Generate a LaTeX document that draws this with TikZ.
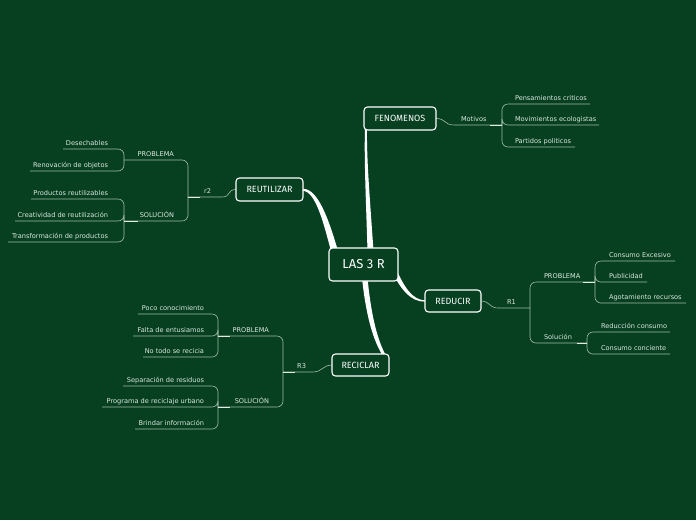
\documentclass[tikz,border=0pt]{standalone}
\usepackage{fontspec}
\setmainfont{DejaVu Sans}
\newfontfamily\handfont{Fira Sans}
\usetikzlibrary{calc}
\definecolor{bg}{RGB}{6,64,33}
\definecolor{txt}{RGB}{222,232,224}
\definecolor{lnc}{RGB}{160,188,168}
\definecolor{hl}{RGB}{225,236,228}
\pgfdeclarelayer{back}\pgfdeclarelayer{conn}
\pgfsetlayers{back,conn,main}
\newcommand{\RTx}[3]{\makebox[#1pt][l]{\hspace{#2pt}#3}}
\newcommand{\LTx}[3]{\makebox[#1pt][r]{#3\hspace{#2pt}}}
\begin{document}
\begin{tikzpicture}[x=1pt,y=-1pt,
  topic/.style={draw=white, line width=1.1pt, rounded corners=3.5pt, fill=bg, text=white, inner sep=0pt, outer sep=0pt, font=\handfont\fontsize{9}{10}\selectfont},
  sub/.style={inner xsep=0pt, inner ysep=4pt, text depth=0pt, outer sep=0pt, text=txt, font=\fontsize{6.6}{7}\selectfont},
  rsub/.style={sub, anchor=south west},
  lsub/.style={sub, anchor=south east},
  lnk/.style={draw=lnc, line width=0.6pt},
  brk/.style={lnk, rounded corners=6pt},
  hil/.style={draw=hl, line width=0.8pt},
  taper/.style={fill=white, draw=none}]
\path[use as bounding box] (0,0) rectangle (696,520);
\begin{pgfonlayer}{back}
\fill[bg] (0,0) rectangle (696,520);
\end{pgfonlayer}

% main topics
\node[topic, minimum width=69pt, minimum height=33pt, font=\handfont\fontsize{13}{14}\selectfont] (c) at (363.5,264.5) {LAS 3 R};
\node[topic, minimum width=72pt, minimum height=23pt] (fen) at (400,118.5) {FENOMENOS};
\node[topic, minimum width=67pt, minimum height=23pt] (reu) at (269.5,189.5) {REUTILIZAR};
\node[topic, minimum width=56pt, minimum height=22pt] (red) at (453,301) {REDUCIR};
\node[topic, minimum width=57pt, minimum height=22pt] (rec) at (360.5,365) {RECICLAR};

% FENOMENOS branch
\node[rsub] (mot) at (454,125) {\RTx{48}{7}{Motivos}};
\node[rsub] (pen) at (502,104) {\RTx{88}{13}{Pensamientos criticos}};
\node[rsub] (mov) at (502,125) {\RTx{97}{13}{Movimientos ecologistas}};
\node[rsub] (par) at (502,147) {\RTx{73}{13}{Partidos politicos}};

% REDUCIR branch
\node[rsub] (r1) at (498,308) {\RTx{32}{9}{R1}};
\node[rsub] (pb1) at (530,282) {\RTx{65}{14}{PROBLEMA}};
\node[rsub] (so1) at (530,343) {\RTx{57}{14}{Solución}};
\node[rsub] (ce) at (595,261) {\RTx{80}{14}{Consumo Excesivo}};
\node[rsub] (pu) at (595,282) {\RTx{52}{14}{Publicidad}};
\node[rsub] (ag) at (595,303) {\RTx{91}{14}{Agotamiento recursos}};
\node[rsub] (rc) at (587,332) {\RTx{83}{14}{Reducción consumo}};
\node[rsub] (cc) at (587,354) {\RTx{83}{14}{Consumo conciente}};

% REUTILIZAR branch
\node[lsub] (r2) at (222,197) {\LTx{34}{11}{r2}};
\node[lsub] (pb2) at (188,160) {\LTx{64}{14}{PROBLEMA}};
\node[lsub] (so2) at (188,221) {\LTx{64}{14}{SOLUCIÓN}};
\node[lsub] (de) at (124,149) {\LTx{61}{16}{Desechables}};
\node[lsub] (rn) at (124,171) {\LTx{94}{16}{Renovación de objetos}};
\node[lsub] (pr) at (124,199) {\LTx{93}{16}{Productos reutilizables}};
\node[lsub] (cr) at (124,221) {\LTx{109}{16}{Creatividad de reutilización}};
\node[lsub] (tr) at (124,242) {\LTx{116}{16}{Transformación de productos}};

% RECICLAR branch
\node[lsub] (r3) at (313,372) {\LTx{30}{7}{R3}};
\node[lsub] (pb3) at (283,336) {\LTx{65}{14}{PROBLEMA}};
\node[lsub] (so3) at (283,407) {\LTx{65}{14}{SOLUCIÓN}};
\node[lsub] (po) at (218,314) {\LTx{80}{14}{Poco conocimiento}};
\node[lsub] (fa) at (218,336) {\LTx{85}{14}{Falta de entusiamos}};
\node[lsub] (nt) at (218,357) {\LTx{75}{14}{No todo se recicia}};
\node[lsub] (se) at (218,386) {\LTx{95}{14}{Separación de residuos}};
\node[lsub] (pg) at (218,407) {\LTx{116}{14}{Programa de reciclaje urbano}};
\node[lsub] (br) at (218,429) {\LTx{83}{14}{Brindar información}};

\begin{pgfonlayer}{conn}
% tapered main connectors
\fill[taper] ($(c.north)+(4,3)$) .. controls (366,200) and (364,160) .. ($(fen.south west)+(1,-2)$)
  -- ($(fen.south west)+(3,-2)$) .. controls (366.5,160) and (370,200) .. ($(c.north)+(10,3)$) -- cycle;
\fill[taper] ($(reu.east)+(0,-0.7)$) .. controls (318,188.5) and (329,220) .. ($(c.north west)+(9,3)$)
  -- ($(c.north west)+(2,3)$) .. controls (324,225) and (316,191.5) .. ($(reu.east)+(0,1.3)$) -- cycle;
\fill[taper] ($(c.east)+(-2.8,2.4)$) .. controls (404,287) and (412,299.8) .. ($(red.west)+(0,-0.6)$)
  -- ($(red.west)+(0,0.6)$) .. controls (411,302.2) and (400,289) .. ($(c.east)+(-7.2,4.6)$) -- cycle;
\fill[taper] ($(c.south)+(-1.5,-3)$) .. controls (365.5,311) and (372,341) .. ($(rec.north east)+(-4,5)$)
  -- ($(rec.north east)+(-2,3.5)$) .. controls (376,339) and (370.5,309) .. ($(c.south)+(4,-3)$) -- cycle;

% FENOMENOS
\draw[lnk] (fen.east) .. controls +(10,0) and +(-10,0) .. (mot.south west) -- (mot.south east);
\draw[brk] (mot.south east) |- (pen.south east);
\draw[brk] (mot.south east) |- (mov.south east);
\draw[brk] (mot.south east) |- (par.south east);
% REDUCIR
\draw[lnk] (red.east) .. controls +(9,0) and +(-9,0) .. (r1.south west) -- (r1.south east);
\draw[brk] (r1.south east) |- (pb1.south east);
\draw[brk] (r1.south east) |- (so1.south east);
\draw[brk] (pb1.south east) |- (ce.south east);
\draw[brk] (pb1.south east) |- (pu.south east);
\draw[brk] (pb1.south east) |- (ag.south east);
\draw[brk] (so1.south east) |- (rc.south east);
\draw[brk] (so1.south east) |- (cc.south east);
% REUTILIZAR
\draw[lnk] (reu.west) .. controls +(-9,0) and +(9,0) .. (r2.south east) -- (r2.south west);
\draw[brk] (r2.south west) |- (pb2.south west);
\draw[brk] (r2.south west) |- (so2.south west);
\draw[brk] (pb2.south west) |- (de.south west);
\draw[brk] (pb2.south west) |- (rn.south west);
\draw[brk] (so2.south west) |- (pr.south west);
\draw[brk] (so2.south west) |- (cr.south west);
\draw[brk] (so2.south west) |- (tr.south west);
% RECICLAR
\draw[lnk] (rec.west) .. controls +(-9,0) and +(9,0) .. (r3.south east) -- (r3.south west);
\draw[brk] (r3.south west) |- (pb3.south west);
\draw[brk] (r3.south west) |- (so3.south west);
\draw[brk] (pb3.south west) |- (po.south west);
\draw[brk] (pb3.south west) |- (fa.south west);
\draw[brk] (pb3.south west) |- (nt.south west);
\draw[brk] (so3.south west) |- (se.south west);
\draw[brk] (so3.south west) |- (pg.south west);
\draw[brk] (so3.south west) |- (br.south west);

% brighter junction segments
\draw[hil] ($(mot.south east)+(-12,0)$) -- (mot.south east);
\draw[hil] ($(pb1.south east)+(-12,0)$) -- (pb1.south east);
\draw[hil] ($(so1.south east)+(-10,0)$) -- (so1.south east);
\draw[hil] (r2.south west) -- ($(r2.south west)+(12,0)$);
\draw[hil] (so2.south west) -- ($(so2.south west)+(14,0)$);
\draw[hil] (r3.south west) -- ($(r3.south west)+(12,0)$);
\draw[hil] (pb3.south west) -- ($(pb3.south west)+(12,0)$);
\draw[hil] (so3.south west) -- ($(so3.south west)+(12,0)$);
\end{pgfonlayer}
\end{tikzpicture}
\end{document}
